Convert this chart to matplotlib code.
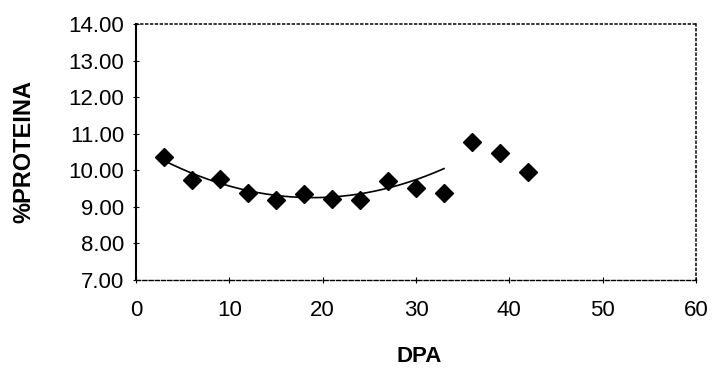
import numpy as np
import matplotlib
matplotlib.use("Agg")
import matplotlib.pyplot as plt

plt.rcParams['font.family'] = ['Liberation Sans', 'DejaVu Sans']

dpa = [3, 6, 9, 12, 15, 18, 21, 24, 27, 30, 33, 36, 39, 42]
proteina = [10.37, 9.73, 9.75, 9.39, 9.19, 9.35, 9.21, 9.20, 9.72, 9.52, 9.37, 10.78, 10.46, 9.96]

# trendline (x, y) along the drawn curve
trend_x = [3, 8, 11, 14, 17, 20, 25, 28, 33]
trend_y = [10.27, 9.72, 9.51, 9.35, 9.26, 9.25, 9.39, 9.62, 10.03]

x_ticks = [0, 10, 20, 30, 40, 50, 60]
y_ticks = [7, 8, 9, 10, 11, 12, 13, 14]
y_ticklabels = ["7.00", "8.00", "9.00", "10.00", "11.00", "12.00", "13.00", "14.00"]

fig = plt.figure(figsize=(7.26, 3.74), dpi=100)
ax = fig.add_axes([136/726, 1-280/374, (696-136)/726, (280-24)/374])

# smooth 2nd-order trendline through the read curve points
coef = np.polyfit(trend_x, trend_y, 2)
xs = np.linspace(trend_x[0], trend_x[-1], 200)
ax.plot(xs, np.polyval(coef, xs), color='black', lw=1.2, zorder=2)

ax.plot(dpa, proteina, linestyle='none', marker='D', ms=9, color='black', zorder=3)

ax.set_xlim(0, 60)
ax.set_ylim(7, 14)
ax.set_xticks(x_ticks)
ax.set_yticks(y_ticks)
ax.set_yticklabels(y_ticklabels)
ax.tick_params(axis='both', labelsize=16, direction='inout', length=5, width=0.8, color='black')
ax.tick_params(axis='x', pad=12)
ax.tick_params(axis='y', pad=6)

ax.spines['left'].set_linewidth(1.5)
ax.spines['bottom'].set_linestyle((0, (3, 1.5)))
ax.spines['bottom'].set_linewidth(1.0)
ax.spines['top'].set_linestyle((0, (1.2, 2.0)))
ax.spines['top'].set_linewidth(1.1)
ax.spines['right'].set_linestyle((0, (1.2, 2.0)))
ax.spines['right'].set_linewidth(1.1)

fig.text(24/726, 1-151/374, '%PROTEINA', rotation=90, ha='center', va='center',
         fontsize=17, fontweight='bold')
fig.text(419/726, 1-357/374, 'DPA', ha='center', va='center', fontsize=16, fontweight='bold')

fig.savefig('out.png', dpi=100)
